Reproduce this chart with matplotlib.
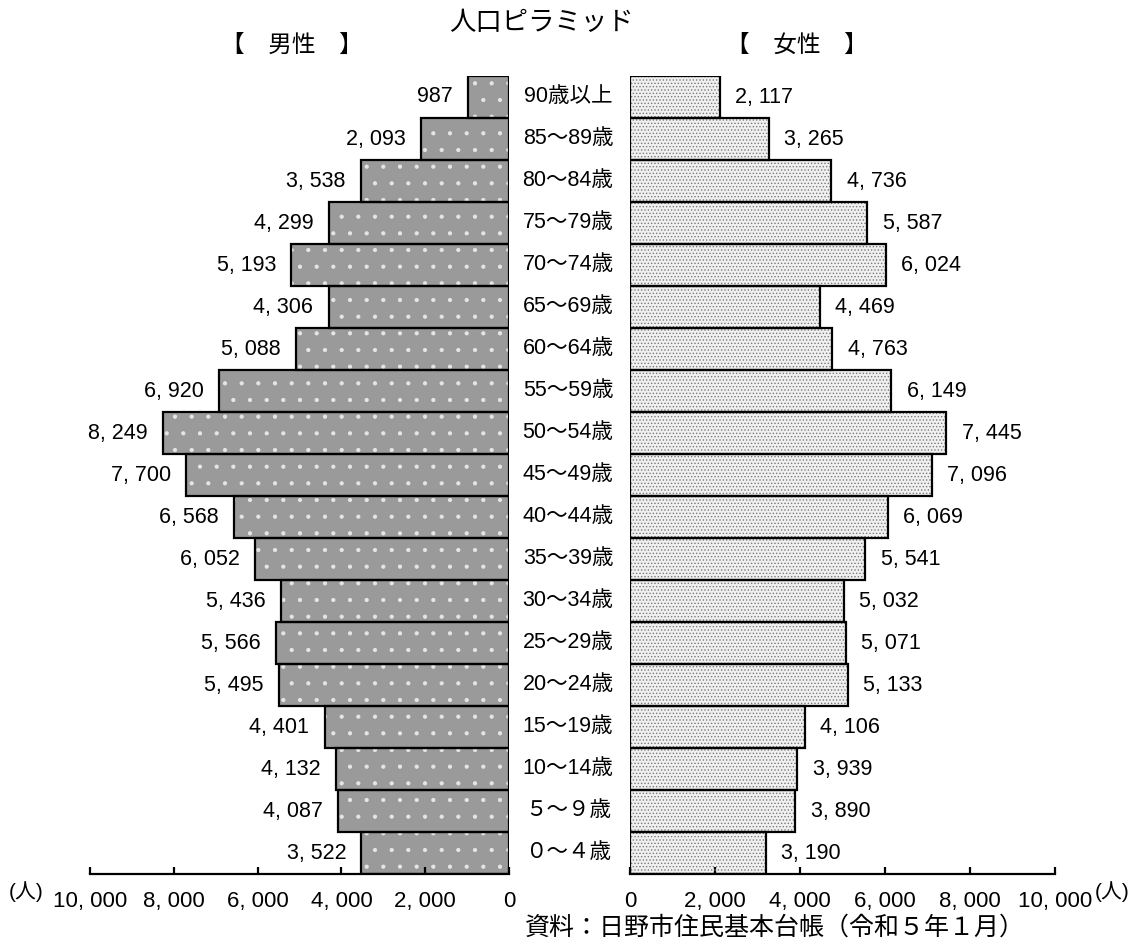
import matplotlib
matplotlib.use("Agg")
import matplotlib.pyplot as plt
import matplotlib.transforms as mtransforms

# 年齢階級（上から下）
ages = ["90歳以上", "85～89歳", "80～84歳", "75～79歳", "70～74歳", "65～69歳",
        "60～64歳", "55～59歳", "50～54歳", "45～49歳", "40～44歳", "35～39歳",
        "30～34歳", "25～29歳", "20～24歳", "15～19歳", "10～14歳", "５～９歳", "０～４歳"]
male = [987, 2093, 3538, 4299, 5193, 4306, 5088, 6920, 8249, 7700,
        6568, 6052, 5436, 5566, 5495, 4401, 4132, 4087, 3522]
female = [2117, 3265, 4736, 5587, 6024, 4469, 4763, 6149, 7445, 7096,
          6069, 5541, 5032, 5071, 5133, 4106, 3939, 3890, 3190]
ticks = [0, 2000, 4000, 6000, 8000, 10000]

NUM = ["Liberation Sans", "Noto Sans CJK JP", "DejaVu Sans"]
JP = ["Noto Sans CJK JP", "DejaVu Sans"]
plt.rcParams["font.family"] = NUM
plt.rcParams["hatch.linewidth"] = 0.6

fig = plt.figure(figsize=(11.38, 9.40), dpi=100)
W, H = 1138, 940
y_bot = (H - 874) / H
ax_h = (874 - 76) / H
axL = fig.add_axes((90 / W, y_bot, 419 / W, ax_h))
axR = fig.add_axes((630 / W, y_bot, 425 / W, ax_h))

n = len(ages)
ypos = [n - 1 - i for i in range(n)]


def fmt(v):
    return f"{v:,}".replace(",", ", ")


def draw(ax, vals, face, dot_color, hatch):
    ax.barh(ypos, vals, height=1.0, color=face, edgecolor="none", zorder=1)
    ax.barh(ypos, vals, height=1.0, color="none", edgecolor=dot_color, hatch=hatch,
            linewidth=0, zorder=2)
    ax.barh(ypos, vals, height=1.0, color="none", edgecolor="black", linewidth=1.6, zorder=3)


draw(axL, male, "#9a9a9a", "#e6e6e6", ".")
draw(axR, female, "#f0f0f0", "#7a7a7a", ".....")

for ax in (axL, axR):
    ax.set_ylim(-0.5, n - 0.5)
    for s in ("top", "left", "right"):
        ax.spines[s].set_visible(False)
    ax.spines["bottom"].set_linewidth(1.6)
    ax.set_yticks([])
    ax.set_xticks(ticks)
    ax.set_xticklabels([fmt(t) for t in ticks])
    ax.tick_params(axis="x", direction="in", length=5, width=1.6, pad=12, labelsize=16)
    ax.patch.set_visible(False)

axL.set_xlim(10000, 0)
axR.set_xlim(0, 10000)

for y, v in zip(ypos, male):
    axL.annotate(fmt(v), (v, y), xytext=(-11, 0),
                 textcoords="offset points", ha="right", va="center", fontsize=15.5)
for y, v in zip(ypos, female):
    axR.annotate(fmt(v), (v, y), xytext=(11, 0),
                 textcoords="offset points", ha="left", va="center", fontsize=15.5)

tr = mtransforms.blended_transform_factory(fig.transFigure, axL.transData)
for y, a in zip(ypos, ages):
    fig.text(568 / W, y, a, transform=tr, ha="center", va="center", fontsize=15.5)

fig.text(541 / W, 1 - 22 / H, "人口ピラミッド", ha="center", va="center", fontsize=19, family=JP)
fig.text(292 / W, 1 - 45 / H, "【　男性　】", ha="center", va="center", fontsize=17, family=JP)
fig.text(797 / W, 1 - 45 / H, "【　女性　】", ha="center", va="center", fontsize=17, family=JP)
fig.text(26 / W, 1 - 892 / H, "(人)", ha="center", va="center", fontsize=15)
fig.text(1112 / W, 1 - 892 / H, "(人)", ha="center", va="center", fontsize=15)
fig.text(775 / W, 1 - 928 / H, "資料：日野市住民基本台帳（令和５年１月）",
         ha="center", va="center", fontsize=18, family=JP)

fig.savefig("out.png", dpi=100)
